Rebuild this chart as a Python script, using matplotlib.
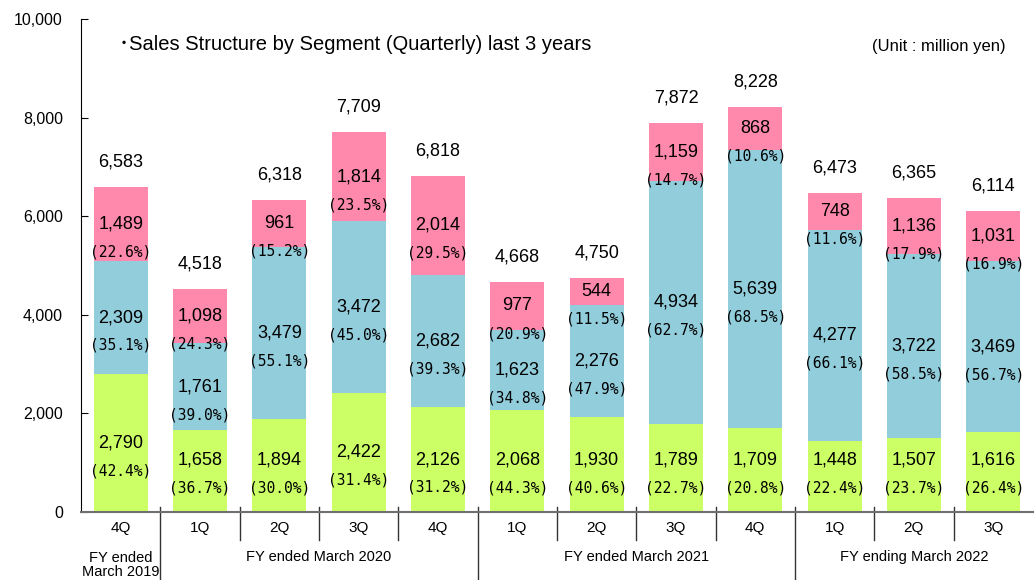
import matplotlib.pyplot as plt
import numpy as np

plt.rcParams['font.family'] = ['Liberation Sans', 'Noto Sans CJK JP', 'DejaVu Sans']

quarters = ['4Q', '1Q', '2Q', '3Q', '4Q', '1Q', '2Q', '3Q', '4Q', '1Q', '2Q', '3Q']
groups = ['FY ended\nMarch 2019', 'FY ended March 2020', 'FY ended March 2021', 'FY ending March 2022']
group_sizes = [1, 4, 4, 3]

green = [2790, 1658, 1894, 2422, 2126, 2068, 1930, 1789, 1709, 1448, 1507, 1616]
blue = [2309, 1761, 3479, 3472, 2682, 1623, 2276, 4934, 5639, 4277, 3722, 3469]
pink = [1489, 1098, 961, 1814, 2014, 977, 544, 1159, 868, 748, 1136, 1031]
totals = [6583, 4518, 6318, 7709, 6818, 4668, 4750, 7872, 8228, 6473, 6365, 6114]

green_pct = [42.4, 36.7, 30.0, 31.4, 31.2, 44.3, 40.6, 22.7, 20.8, 22.4, 23.7, 26.4]
blue_pct = [35.1, 39.0, 55.1, 45.0, 39.3, 34.8, 47.9, 62.7, 68.5, 66.1, 58.5, 56.7]
pink_pct = [22.6, 24.3, 15.2, 23.5, 29.5, 20.9, 11.5, 14.7, 10.6, 11.6, 17.9, 16.9]

c_green = '#CCFF66'
c_blue = '#92CDDC'
c_pink = '#FF88AD'

fig = plt.figure(figsize=(10.36, 5.8), dpi=100)
ax = fig.add_axes([0.0782, 0.1172, 0.9188, 0.85])

x = np.arange(len(quarters))
w = 0.68
g = np.array(green)
b = np.array(blue)
p = np.array(pink)
ax.bar(x, g, w, color=c_green)
ax.bar(x, b, w, bottom=g, color=c_blue)
ax.bar(x, p, w, bottom=g + b, color=c_pink)

# 数值标签
def seg_labels(vals, pcts, bottoms, min_y=0):
    for i in range(len(vals)):
        yc = max(bottoms[i] + vals[i] / 2, min_y)
        ax.text(x[i], yc, '{:,}'.format(vals[i]), ha='center', va='center', fontsize=13)
        ax.annotate('({:.1f}%)'.format(pcts[i]), (x[i], yc), xytext=(0, -20),
                    textcoords='offset points', ha='center', va='center',
                    fontsize=10.5, family='DejaVu Sans Mono')

seg_labels(green, green_pct, np.zeros(len(g)), min_y=1050)
seg_labels(blue, blue_pct, g)
seg_labels(pink, pink_pct, g + b)

for i in range(len(totals)):
    ax.annotate('{:,}'.format(totals[i]), (x[i], g[i] + b[i] + p[i]), xytext=(0, 18),
                textcoords='offset points', ha='center', va='center', fontsize=13)

ax.set_ylim(0, 10000)
ax.set_xlim(-0.5, len(quarters) - 0.5)
ax.set_yticks(range(0, 10001, 2000))
ax.set_yticklabels(['{:,}'.format(v) for v in range(0, 10001, 2000)])
ax.tick_params(axis='y', direction='in', length=5, pad=13, labelsize=11.5)
ax.set_xticks([])
for s in ['top', 'right']:
    ax.spines[s].set_visible(False)
ax.spines['bottom'].set_color('#707070')
ax.spines['bottom'].set_linewidth(1.5)

# 横轴标签和分隔线
trans = ax.get_xaxis_transform()
for i, q in enumerate(quarters):
    ax.text(x[i], -0.032, q, transform=trans, ha='center', va='center', fontsize=11)

bounds = np.cumsum(group_sizes)[:-1]
for k in range(1, len(quarters)):
    if k in bounds:
        ax.plot([k - 0.5, k - 0.5], [0.01, -0.14], transform=trans, color='#333333',
                lw=1, clip_on=False)
    else:
        ax.plot([k - 0.5, k - 0.5], [0.01, -0.057], transform=trans, color='#333333',
                lw=1, clip_on=False)

start = 0
for name, n in zip(groups, group_sizes):
    xc = start + (n - 1) / 2
    if '\n' in name:
        ax.text(xc, -0.107, name, transform=trans, ha='center', va='center',
                fontsize=10.5, linespacing=1.0)
    else:
        ax.text(xc, -0.092, name, transform=trans, ha='center', va='center', fontsize=10.5)
    start += n

ax.text(-0.02, 9480, '･Sales Structure by Segment (Quarterly) last 3 years', fontsize=14.5,
        ha='left', va='center')
ax.text(11.15, 9450, '(Unit : million yen)', fontsize=12, ha='right', va='center')

plt.savefig('out.png', dpi=100)
